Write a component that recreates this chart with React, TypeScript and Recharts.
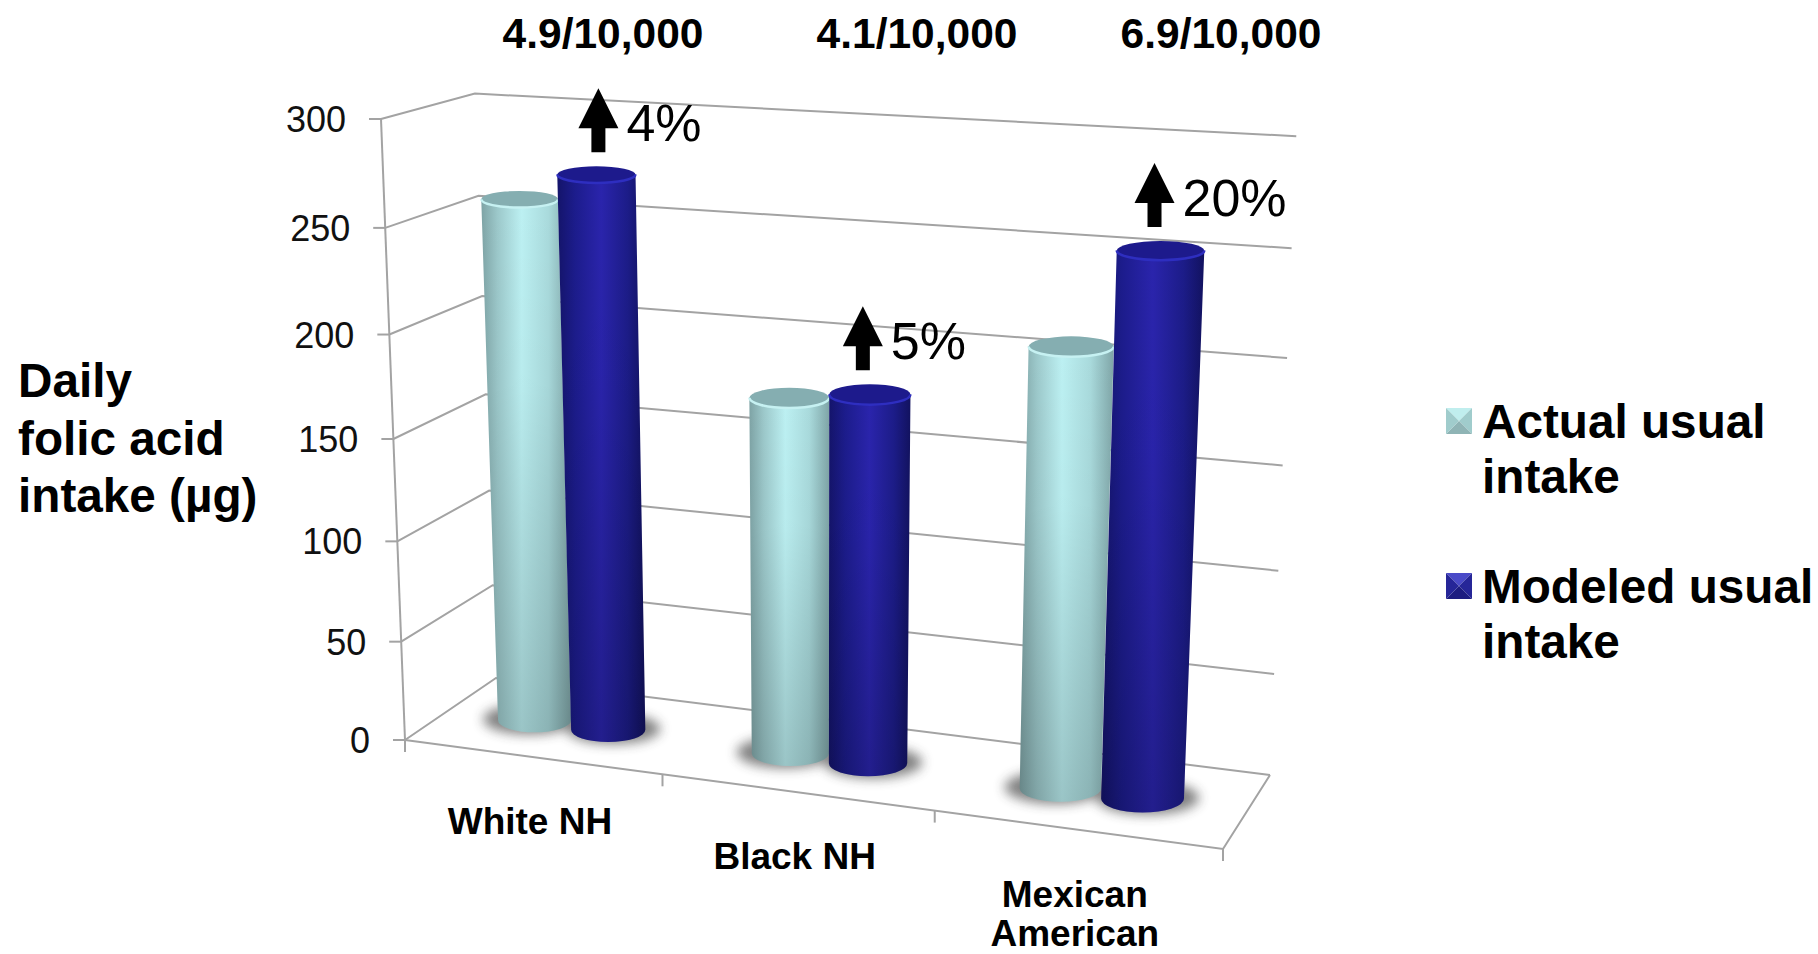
import React from 'react';
import { BarChart, Bar, XAxis, YAxis, CartesianGrid, Legend } from 'recharts';

const categories = ['White NH', 'Black NH', 'Mexican American'];
const actualIntake = [259, 175, 210];
const modeledIntake = [273, 180, 256];
const increaseLabels = ['4%', '5%', '20%'];
const riskLabels = ['4.9/10,000', '4.1/10,000', '6.9/10,000'];
const valueTicks = [0, 50, 100, 150, 200, 250, 300];
const axisTitle = ['Daily', 'folic acid', 'intake (µg)'];

const data = categories.map((name, i) => ({
  name,
  actual: actualIntake[i],
  modeled: modeledIntake[i],
}));

const WIDTH = 1818;
const HEIGHT = 954;
const FONT = '"Liberation Sans", Arial, sans-serif';
const GRID = '#a3a3a3';

// flat plot area handed to Recharts, everything is projected from it
const PLOT_LEFT = 405;
const PLOT_TOP = 119;
const PLOT_W = 818;
const PLOT_H = 621;
const Y_AXIS_W = 60;
const X_AXIS_H = 40;

// corners of the 3D box on screen
const ORIGIN = [405, 740];
const FRONT_RIGHT = [1223, 849];
const BACK_RIGHT = [1270, 775];
const BACK_LEFT = [496, 678];
const TOP_FRONT_LEFT = [381, 119];
const HEIGHT_PERSPECTIVE = -0.0594;
const BAR_DEPTH = 0.48;
const BAR_SHIFT = -0.003;

const solveCamera = () => {
  const dx1 = FRONT_RIGHT[0] - BACK_RIGHT[0];
  const dx2 = BACK_LEFT[0] - BACK_RIGHT[0];
  const dy1 = FRONT_RIGHT[1] - BACK_RIGHT[1];
  const dy2 = BACK_LEFT[1] - BACK_RIGHT[1];
  const sx = ORIGIN[0] - FRONT_RIGHT[0] + BACK_RIGHT[0] - BACK_LEFT[0];
  const sy = ORIGIN[1] - FRONT_RIGHT[1] + BACK_RIGHT[1] - BACK_LEFT[1];
  const det = dx1 * dy2 - dx2 * dy1;
  const i = (sx * dy2 - dx2 * sy) / det;
  const j = (dx1 * sy - sx * dy1) / det;
  const k = HEIGHT_PERSPECTIVE;
  const axis = (p: number[], d: number) => [p[0] * (1 + d) - ORIGIN[0], p[1] * (1 + d) - ORIGIN[1]];
  return { i, j, k, a: axis(FRONT_RIGHT, i), b: axis(BACK_LEFT, j), c: axis(TOP_FRONT_LEFT, k) };
};
const cam = solveCamera();

// u along the categories, w into the depth, v up the value axis (all 0..1)
const project = (u: number, w: number, v: number) => {
  const d = 1 + cam.i * u + cam.j * w + cam.k * v;
  return {
    // small correction so the far top corners land where the box really ends
    x: (cam.a[0] * u + cam.b[0] * w + cam.c[0] * v + ORIGIN[0]) / d - 5 * u * w * v - 4 * (1 - u) * w * v,
    y: (cam.a[1] * u + cam.b[1] * w + cam.c[1] * v + ORIGIN[1]) / d - 7 * u * w * v + 2 * (1 - u) * w * v,
  };
};
const toU = (x: number) => (x - PLOT_LEFT) / PLOT_W;
const toV = (y: number) => (PLOT_TOP + PLOT_H - y) / PLOT_H;

const GridLine = (props: any) => {
  const v = toV(props.y1);
  const a = project(0, 0, v);
  const b = project(0, 1, v);
  const c = project(1, 1, v);
  return (
    <polyline
      key={props.key}
      points={`${a.x},${a.y} ${b.x},${b.y} ${c.x},${c.y}`}
      fill="none"
      stroke={GRID}
      strokeWidth={2}
    />
  );
};

const ValueTick = ({ y, payload }: any) => {
  const p = project(0, 0, toV(y));
  return (
    <g>
      <line x1={p.x - 12} y1={p.y} x2={p.x} y2={p.y} stroke={GRID} strokeWidth={2} />
      <text x={p.x - 35} y={p.y + 13} textAnchor="end" fontFamily={FONT} fontSize={36} fill="#111">
        {payload.value}
      </text>
    </g>
  );
};

const CategoryTick = ({ x, payload }: any) => {
  const p = project(toU(x), 0, 0);
  const lines = payload.value.length > 8 ? payload.value.split(' ') : [payload.value];
  return (
    <text textAnchor="middle" fontFamily={FONT} fontSize={37} fontWeight="bold" fill="#000">
      {lines.map((line: string, i: number) => (
        <tspan key={line} x={p.x - 2} y={p.y + 77 + i * 39}>
          {line}
        </tspan>
      ))}
    </text>
  );
};

// axis lines, floor outline and the stub ticks that hang under it
const Frame = () => {
  const o = project(0, 0, 0);
  const top = project(0, 0, 1);
  const fr = project(1, 0, 0);
  const br = project(1, 1, 0);
  const cuts = [0, 1 / 3, 2 / 3, 1].map((u) => project(u, 0, 0));
  return (
    <g stroke={GRID} strokeWidth={2} fill="none">
      <line x1={top.x} y1={top.y} x2={o.x} y2={o.y} />
      <polyline points={`${o.x},${o.y} ${fr.x},${fr.y} ${br.x},${br.y}`} />
      {cuts.map((p, i) => (
        <line key={i} x1={p.x} y1={p.y} x2={p.x} y2={p.y + 12} />
      ))}
    </g>
  );
};

const Gradients = () => (
  <defs>
    <linearGradient id="tealSide" x1="0" x2="1" y1="0" y2="0">
      <stop offset="0" stopColor="#7ea3a5" />
      <stop offset="0.18" stopColor="#9cc8ca" />
      <stop offset="0.45" stopColor="#bcf0f2" />
      <stop offset="0.75" stopColor="#a9dadc" />
      <stop offset="1" stopColor="#7fa5a7" />
    </linearGradient>
    <linearGradient id="blueSide" x1="0" x2="1" y1="0" y2="0">
      <stop offset="0" stopColor="#14146a" />
      <stop offset="0.2" stopColor="#1c1c8c" />
      <stop offset="0.5" stopColor="#2a24ac" />
      <stop offset="0.8" stopColor="#1c1c88" />
      <stop offset="1" stopColor="#12125f" />
    </linearGradient>
    <linearGradient id="sideShade" x1="0" x2="0" y1="0" y2="1">
      <stop offset="0" stopColor="#000" stopOpacity="0" />
      <stop offset="0.35" stopColor="#000" stopOpacity="0.02" />
      <stop offset="1" stopColor="#000" stopOpacity="0.18" />
    </linearGradient>
    <filter id="baseShadow" x="-30%" y="-60%" width="160%" height="220%">
      <feGaussianBlur stdDeviation="6" />
    </filter>
  </defs>
);

const barFrame = (x: number, y: number, width: number) => {
  const u = toU(x + width / 2) + BAR_SHIFT;
  const halfU = width / 2 / PLOT_W;
  const v = toV(y);
  const rim = (val: number) => {
    const left = project(u - halfU, BAR_DEPTH, val);
    const right = project(u + halfU, BAR_DEPTH, val);
    const mid = project(u, BAR_DEPTH, val);
    const rx = (right.x - left.x) / 2;
    return { cx: mid.x, cy: mid.y, rx, ry: rx * (0.33 - 0.13 * val) };
  };
  return { top: rim(v), base: rim(0) };
};

const Cylinder = ({ x, y, width, side, cap, edge }: any) => {
  const { top, base } = barFrame(x, y, width);
  const body =
    `M${top.cx - top.rx},${top.cy} L${top.cx + top.rx},${top.cy} ` +
    `L${base.cx + base.rx},${base.cy} A${base.rx},${base.ry} 0 0 1 ${base.cx - base.rx},${base.cy} Z`;
  const front = `M${top.cx - top.rx},${top.cy} A${top.rx},${top.ry} 0 0 0 ${top.cx + top.rx},${top.cy}`;
  return (
    <g>
      <path d={body} fill={`url(#${side})`} />
      <path d={body} fill="url(#sideShade)" />
      <ellipse cx={top.cx} cy={top.cy} rx={top.rx} ry={top.ry} fill={cap} />
      <path d={front} fill="none" stroke={edge} strokeWidth={2.5} />
    </g>
  );
};

// the shadows of both bars of a group go first so neither falls across a bar
const ActualBar = (props: any) => {
  const { x, y, width } = props;
  const left = barFrame(x, y, width).base;
  const right = barFrame(x + width, y, width).base;
  return (
    <g>
      <g filter="url(#baseShadow)" fill="#3c3c3c" opacity={0.65}>
        <ellipse cx={left.cx - 5} cy={left.cy - 1} rx={left.rx + 10} ry={left.ry + 3} />
        <ellipse cx={right.cx + 5} cy={right.cy - 1} rx={right.rx + 10} ry={right.ry + 3} />
      </g>
      <Cylinder x={x} y={y} width={width} side="tealSide" cap="#85aeb1" edge="#c6f1f2" />
    </g>
  );
};

const arrowShift = [6, -3, -2];

const ModeledBar = (props: any) => {
  const { x, y, width, index } = props;
  const { top } = barFrame(x, y, width);
  const ax = top.cx - 4 + arrowShift[index];
  const bottom = top.cy - top.ry - 14;
  const head = bottom - 24;
  const tip = bottom - 64;
  return (
    <g>
      <Cylinder x={x} y={y} width={width} side="blueSide" cap="#1d1a8c" edge="#2e2ec0" />
      <polygon
        points={`${ax},${tip} ${ax + 20},${head} ${ax + 7},${head} ${ax + 7},${bottom} ${ax - 7},${bottom} ${ax - 7},${head} ${ax - 20},${head}`}
        fill="#000"
      />
      <text x={ax + 28} y={bottom - 11} fontFamily={FONT} fontSize={52} fill="#000">
        {increaseLabels[index]}
      </text>
    </g>
  );
};

const LegendSwatch = ({ x, y, shades }: any) => {
  const s = 26;
  const cx = x + s / 2;
  const cy = y + s / 2;
  return (
    <g>
      <polygon points={`${x},${y} ${x + s},${y} ${cx},${cy}`} fill={shades[0]} />
      <polygon points={`${x + s},${y} ${x + s},${y + s} ${cx},${cy}`} fill={shades[1]} />
      <polygon points={`${x},${y + s} ${x + s},${y + s} ${cx},${cy}`} fill={shades[2]} />
      <polygon points={`${x},${y} ${x},${y + s} ${cx},${cy}`} fill={shades[3]} />
    </g>
  );
};

const swatchShades = [
  ['#c0eeee', '#a0cccc', '#8fb4b5', '#a0cccc'],
  ['#4a4ac8', '#262698', '#1d1d80', '#262698'],
];

const LegendBlock = ({ payload }: any) => (
  <svg width={WIDTH} height={HEIGHT} style={{ display: 'block' }}>
    {(payload || []).map((entry: any, i: number) => {
      const words = String(entry.value).split(' ');
      const baseline = 438 + i * 165;
      return (
        <g key={entry.value}>
          <LegendSwatch x={1446} y={baseline - 30} shades={swatchShades[i]} />
          <text fontFamily={FONT} fontSize={47.7} fontWeight="bold" fill="#000">
            <tspan x={1482} y={baseline}>
              {words.slice(0, 2).join(' ')}
            </tspan>
            <tspan x={1482} y={baseline + 55}>
              {words.slice(2).join(' ')}
            </tspan>
          </text>
        </g>
      );
    })}
  </svg>
);

const riskLabelX = [603, 917, 1221];

const Captions = () => (
  <g fontFamily={FONT} fontWeight="bold" fill="#000">
    {axisTitle.map((line, i) => (
      <text key={line} x={18} y={397 + i * 57.5} fontSize={47.7}>
        {line}
      </text>
    ))}
    {riskLabels.map((label, i) => (
      <text key={i} x={riskLabelX[i]} y={48} fontSize={42.5} textAnchor="middle">
        {label}
      </text>
    ))}
  </g>
);

export default function App() {
  return (
    <div style={{ position: 'absolute', left: 0, top: 0, width: WIDTH, height: HEIGHT, background: '#fff' }}>
      <BarChart
        width={WIDTH}
        height={HEIGHT}
        data={data}
        margin={{
          left: PLOT_LEFT - Y_AXIS_W,
          top: PLOT_TOP,
          right: WIDTH - PLOT_LEFT - PLOT_W,
          bottom: HEIGHT - PLOT_TOP - PLOT_H - X_AXIS_H,
        }}
        barCategoryGap="20.5%"
        barGap={0}
      >
        <Gradients />
        <CartesianGrid vertical={false} horizontal={GridLine} />
        <Frame />
        <XAxis dataKey="name" height={X_AXIS_H} axisLine={false} tickLine={false} interval={0} tick={CategoryTick} />
        <YAxis width={Y_AXIS_W} domain={[0, 300]} ticks={valueTicks} axisLine={false} tickLine={false} tick={ValueTick} />
        <Legend
          layout="horizontal"
          align="center"
          verticalAlign="middle"
          wrapperStyle={{ left: 0, top: 0, width: WIDTH, height: HEIGHT, pointerEvents: 'none' }}
          content={LegendBlock}
        />
        <Bar dataKey="actual" name="Actual usual intake" fill="#a9dadc" shape={ActualBar} isAnimationActive={false} />
        <Bar dataKey="modeled" name="Modeled usual intake" fill="#1c1c88" shape={ModeledBar} isAnimationActive={false} />
        <Captions />
      </BarChart>
    </div>
  );
}
